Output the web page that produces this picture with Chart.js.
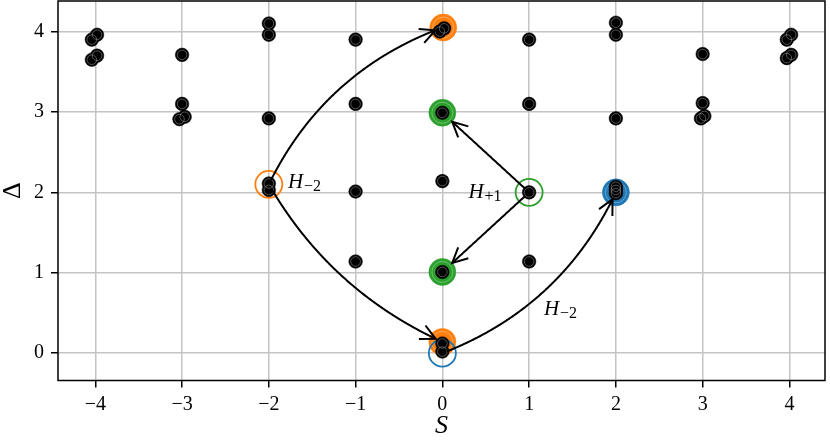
<!DOCTYPE html>
<html>
<head>
<meta charset="utf-8">
<script src="https://cdn.jsdelivr.net/npm/chart.js@4.4.1/dist/chart.umd.min.js"></script>
<style>
  body { margin: 0; background: #fff; }
  #wrap { width: 830px; height: 442px; }
</style>
</head>
<body>
<div id="wrap"><canvas id="chart" width="830" height="442"></canvas></div>
<script>
// ticks
const xTicks = [-4, -3, -2, -1, 0, 1, 2, 3, 4];
const yTicks = [0, 1, 2, 3, 4];

// black states (S, Delta)
const dotS = [-3.98, -4.04, -3.98, -4.04,
              -3, -3, -2.97, -3.03,
              -2, -2, -2, -2, -2,
              -1, -1, -1, -1,
              0.02, -0.03, 0, 0, 0, 0, 0,
              1, 1, 1, 1,
              2, 2, 2, 2, 2, 2,
              3, 3, 2.98, 3.02,
              4.02, 3.97, 4.02, 3.97];
const dotD = [3.96, 3.90, 3.70, 3.65,
              3.71, 3.10, 2.94, 2.91,
              4.10, 3.96, 2.92, 2.11, 2.03,
              3.90, 3.10, 2.01, 1.14,
              4.04, 4.00, 2.99, 2.14, 1.01, 0.12, 0.02,
              3.90, 3.10, 2.00, 1.14,
              4.11, 3.96, 2.92, 2.07, 2.03, 1.99,
              3.72, 3.11, 2.92, 2.95,
              3.96, 3.90, 3.71, 3.67];

// highlighted states
const orangeFillS = [0.01, 0];
const orangeFillD = [4.05, 0.14];
const greenFillS = [0, 0];
const greenFillD = [2.99, 1.01];
const blueFillS = [2];
const blueFillD = [2.0];
const orangeRingS = [-2];
const orangeRingD = [2.1];
const greenRingS = [1];
const greenRingD = [2.0];
const blueRingS = [0];
const blueRingD = [0.0];

// arrows: from -> to, arc curvature
const arrowFromS = [-2, -2, 0, 1, 1];
const arrowFromD = [2.1, 2.1, 0, 2, 2];
const arrowToS = [0, 0, 2, 0, 0];
const arrowToD = [4.05, 0.14, 2.0, 2.99, 1.01];
const arrowRad = [-0.2, 0.16, 0.2, 0, 0];

// operator labels
const labelS = [-1.78, 0.30, 1.17];
const labelD = [2.06, 1.93, 0.48];
const labelSub = ['\u22122', '+1', '\u22122'];

const pts = (xs, ys) => xs.map((x, i) => ({ x: x, y: ys[i] }));

const ORANGE = '#ff7f0e', GREEN = '#2ca02c', BLUE = '#1f77b4';

const arrowPlugin = {
  id: 'arrows',
  afterDatasetsDraw(chart) {
    const ctx = chart.ctx, xs = chart.scales.x, ys = chart.scales.y;
    ctx.save();
    ctx.strokeStyle = '#000';
    ctx.lineWidth = 2;
    ctx.lineJoin = 'miter';
    ctx.lineCap = 'butt';
    for (let k = 0; k < arrowFromS.length; k++) {
      const x1 = xs.getPixelForValue(arrowFromS[k]), y1 = ys.getPixelForValue(arrowFromD[k]);
      const x2 = xs.getPixelForValue(arrowToS[k]), y2 = ys.getPixelForValue(arrowToD[k]);
      const rad = arrowRad[k];
      const mx = (x1 + x2) / 2, my = (y1 + y2) / 2;
      const cx = mx - rad * (y2 - y1), cy = my + rad * (x2 - x1);
      const p = [];
      for (let i = 0; i <= 300; i++) {
        const t = i / 300, u = 1 - t;
        p.push([u * u * x1 + 2 * u * t * cx + t * t * x2, u * u * y1 + 2 * u * t * cy + t * t * y2]);
      }
      const shrinkA = 5, shrinkB = rad === 0 ? 13 : 7;
      let a = 0;
      while (a < p.length - 1 && Math.hypot(p[a][0] - x1, p[a][1] - y1) < shrinkA) a++;
      let b = p.length - 1;
      while (b > 0 && Math.hypot(p[b][0] - x2, p[b][1] - y2) < shrinkB) b--;
      ctx.beginPath();
      ctx.moveTo(p[a][0], p[a][1]);
      for (let i = a + 1; i <= b; i++) ctx.lineTo(p[i][0], p[i][1]);
      ctx.stroke();
      // open head
      const tip = p[b], back = p[Math.max(a, b - 8)];
      const ang = Math.atan2(tip[1] - back[1], tip[0] - back[0]);
      const hl = 15, hw = 7.5;
      const bx = tip[0] - hl * Math.cos(ang), by = tip[1] - hl * Math.sin(ang);
      const nx = -Math.sin(ang) * hw, ny = Math.cos(ang) * hw;
      ctx.beginPath();
      ctx.moveTo(bx + nx, by + ny);
      ctx.lineTo(tip[0], tip[1]);
      ctx.lineTo(bx - nx, by - ny);
      ctx.stroke();
    }
    // labels
    ctx.fillStyle = '#000';
    ctx.textBaseline = 'alphabetic';
    ctx.textAlign = 'left';
    for (let k = 0; k < labelS.length; k++) {
      const x = xs.getPixelForValue(labelS[k]), y = ys.getPixelForValue(labelD[k]);
      ctx.font = 'italic 21px "Liberation Serif"';
      ctx.fillText('H', x, y);
      const w = ctx.measureText('H').width;
      ctx.font = '16px "Liberation Serif"';
      ctx.fillText(labelSub[k], x + w + 1, y + 3);
    }
    ctx.restore();
  },
  afterDraw(chart) {
    const ctx = chart.ctx, a = chart.chartArea;
    ctx.save();
    ctx.strokeStyle = '#000';
    ctx.lineWidth = 1.5;
    ctx.strokeRect(a.left, a.top, a.right - a.left, a.bottom - a.top);
    ctx.restore();
  }
};

const ringStyle = { backgroundColor: 'rgba(0,0,0,0)', borderColor: 'rgba(255,255,255,0.45)', borderWidth: 0.7 };

new Chart(document.getElementById('chart'), {
  type: 'scatter',
  data: {
    datasets: [
      { data: pts(dotS, dotD), pointRadius: 4.8, ...ringStyle, order: 0 },
      { data: pts(dotS, dotD), pointRadius: 6.8, backgroundColor: '#000', borderColor: '#000', borderWidth: 0.5, order: 1 },
      { data: pts(orangeRingS, orangeRingD), pointRadius: 13.5, backgroundColor: 'rgba(0,0,0,0)', borderColor: ORANGE, borderWidth: 1.8, order: 2 },
      { data: pts(greenRingS, greenRingD), pointRadius: 13.5, backgroundColor: 'rgba(0,0,0,0)', borderColor: GREEN, borderWidth: 1.8, order: 2 },
      { data: pts(blueRingS, blueRingD), pointRadius: 13.5, backgroundColor: 'rgba(0,0,0,0)', borderColor: BLUE, borderWidth: 1.8, order: 2 },
      { data: pts(orangeFillS, orangeFillD).concat(pts(greenFillS, greenFillD), pts(blueFillS, blueFillD)), pointRadius: 10.5, ...ringStyle, order: 3 },
      { data: pts(orangeFillS, orangeFillD), pointRadius: 13.5, backgroundColor: ORANGE, borderColor: ORANGE, borderWidth: 0.5, order: 4 },
      { data: pts(greenFillS, greenFillD), pointRadius: 13.5, backgroundColor: GREEN, borderColor: GREEN, borderWidth: 0.5, order: 4 },
      { data: pts(blueFillS, blueFillD), pointRadius: 13.5, backgroundColor: BLUE, borderColor: BLUE, borderWidth: 0.5, order: 4 }
    ]
  },
  options: {
    responsive: false,
    animation: false,
    events: [],
    layout: { autoPadding: false, padding: { top: 1, right: 5, left: 0, bottom: 0 } },
    plugins: { legend: { display: false }, tooltip: { enabled: false } },
    scales: {
      x: {
        type: 'linear',
        min: -4.43,
        max: 4.41,
        afterBuildTicks: s => { s.ticks = xTicks.map(v => ({ value: v })); },
        afterFit: s => { s.height = 61.5; s.paddingLeft = 0; s.paddingRight = 0; },
        grid: { color: '#c4c4c4', lineWidth: 1.5, tickColor: '#000', tickWidth: 1.5, tickLength: 7 },
        border: { display: false },
        ticks: {
          color: '#000',
          padding: 5,
          maxRotation: 0,
          font: { family: '"Liberation Serif"', size: 20 },
          callback: v => String(v).replace('-', '\u2212')
        },
        title: {
          display: true,
          text: 'S',
          color: '#000',
          padding: { top: 0, bottom: 0 },
          font: { family: '"Liberation Serif"', size: 26, style: 'italic' }
        }
      },
      y: {
        type: 'linear',
        min: -0.34,
        max: 4.38,
        afterBuildTicks: s => { s.ticks = yTicks.map(v => ({ value: v })); },
        afterFit: s => { s.width = 58; s.paddingTop = 0; s.paddingBottom = 0; },
        grid: { color: '#c4c4c4', lineWidth: 1.5, tickColor: '#000', tickWidth: 1.5, tickLength: 7 },
        border: { display: false },
        ticks: {
          color: '#000',
          padding: 7,
          font: { family: '"Liberation Serif"', size: 20 },
          callback: v => String(v)
        },
        title: {
          display: true,
          text: '\u0394',
          color: '#000',
          padding: 0,
          font: { family: '"Liberation Serif"', size: 26, lineHeight: 1.0 }
        }
      }
    }
  },
  plugins: [arrowPlugin]
});
</script>
</body>
</html>
